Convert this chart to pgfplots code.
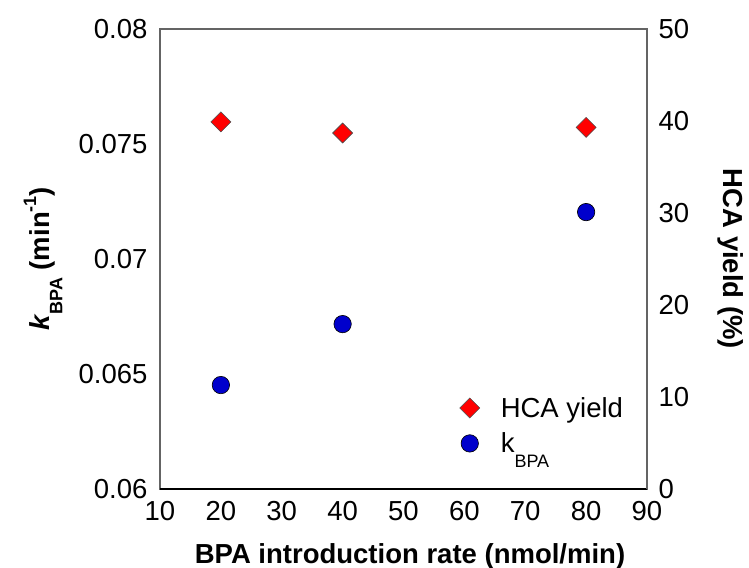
\documentclass[border=0pt]{standalone}
\usepackage{fontspec}
\setmainfont{Liberation Sans}
\usepackage{pgfplots}
\pgfplotsset{compat=1.18}
\definecolor{myred}{RGB}{255,0,0}
\definecolor{myblue}{RGB}{0,0,204}
\definecolor{framec}{RGB}{100,100,100}
\newcommand\fs{\fontsize{27.5bp}{32bp}\selectfont}
\begin{document}
\begin{tikzpicture}
\useasboundingbox (0,0) rectangle (749bp,568bp);
\pgfplotsset{
  base/.style={
    at={(160bp,79bp)}, anchor=south west,
    scale only axis, width=487bp, height=460bp,
    xmin=10, xmax=90,
    /pgf/number format/assume math mode=true,
    scaled y ticks=false,
    tick style={draw=none},
    tick label style={font=\fs},
    label style={font=\fs\bfseries},
    axis line style={draw=framec, line width=1.2bp},
    clip=false,
  }
}
\begin{axis}[base,
  ymin=0.06, ymax=0.08,
  ytick={0.06,0.065,0.07,0.075,0.08},
  yticklabels={0.06,0.065,0.07,0.075,0.08},
  yticklabel pos=left,
  xtick={10,20,...,90},
  yticklabel style={xshift=-9bp},
  xticklabel style={yshift=-9bp},
  xlabel={BPA introduction rate (nmol/min)},
  xlabel style={at={([xshift=6.5bp,yshift=-74bp]axis description cs:0.5,0)}, anchor=base},
  ylabel={\textit{k}\raisebox{-0.45em}{\fontsize{18bp}{20bp}\selectfont BPA} (min\raisebox{0.5em}{\fontsize{18bp}{20bp}\selectfont -1})},
  ylabel style={at={([xshift=-110bp]axis description cs:0,0.5)}, anchor=base},
]
\draw[black, line width=1.2bp] (axis description cs:0,0) -- (axis description cs:1,0);
\addplot[only marks, mark=*, mark size=8.7bp, mark options={fill=myblue, draw=black, line width=0.6bp}]
  coordinates {(20,0.06452) (40,0.06717) (80,0.07204)};
\end{axis}
\begin{axis}[base,
  axis x line=none, axis y line*=right,
  ymin=0, ymax=50,
  ytick={0,10,...,50},
  yticklabel style={xshift=8bp},
  ylabel={HCA yield (\%)},
  ylabel style={at={([xshift=76bp]axis description cs:1,0.5)}, anchor=base, rotate=180},
  legend style={draw=none, fill=none, font=\fs, at={(axis description cs:0.609,0.2107)}, anchor=north west,
    nodes={inner sep=3bp}, row sep=8bp},
  legend cell align=left,
  legend image code/.code={\path[draw=none,fill=none] (0bp,0bp) -- (38bp,0bp); \draw[#1] plot coordinates {(10bp,0bp)};},
]
\addplot[only marks, mark=square*, mark size=7.07bp, mark options={rotate=45, fill=myred, draw=black!70, line width=0.6bp}]
  coordinates {(20,39.9) (40,38.7) (80,39.3)};
\addlegendentry{HCA yield}
\addlegendimage{only marks, mark=*, mark size=8.7bp, mark options={fill=myblue, draw=black, line width=0.6bp}}
\addlegendentry{k\raisebox{-0.55em}{\fontsize{18bp}{20bp}\selectfont BPA}}
\end{axis}
\end{tikzpicture}
\end{document}
